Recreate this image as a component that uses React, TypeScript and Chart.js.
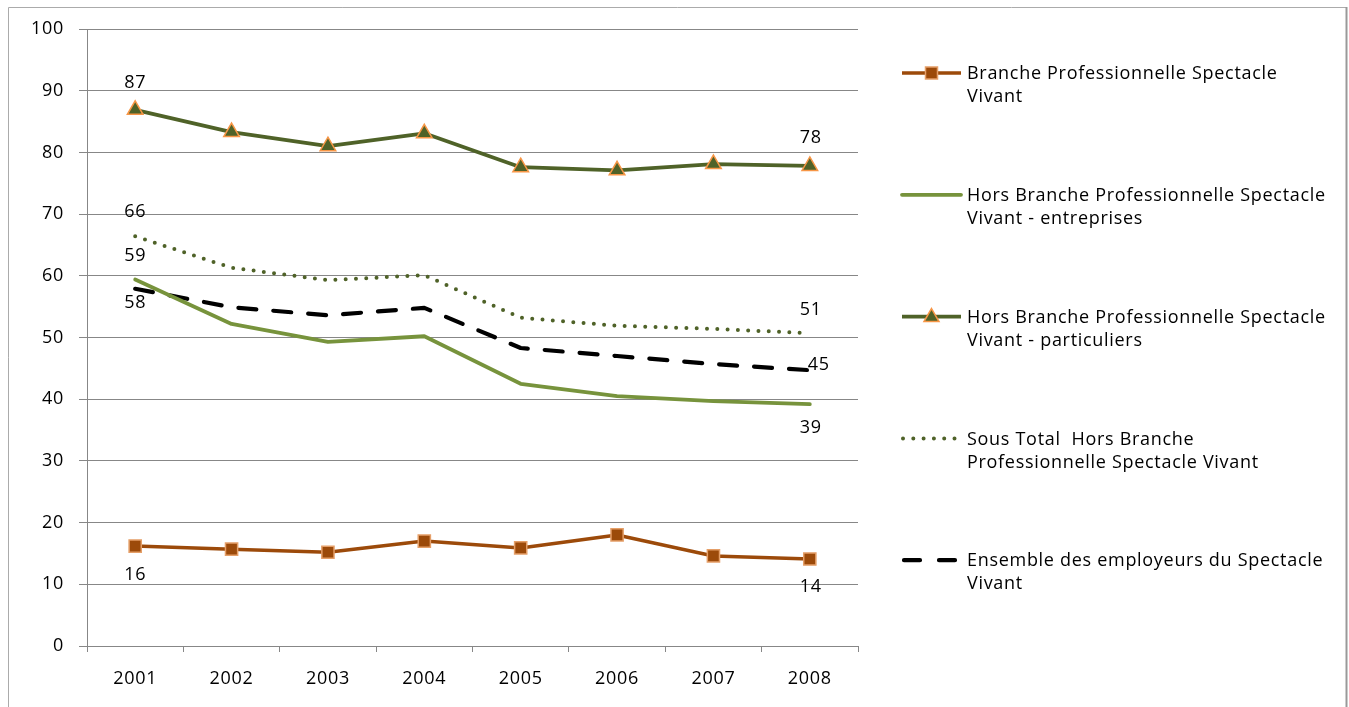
import React, { useEffect, useRef } from "react";
import { Chart, registerables } from "chart.js";

Chart.register(...registerables);

// ---------- DATA ----------
const years = ["2001", "2002", "2003", "2004", "2005", "2006", "2007", "2008"];
const brancheValues = [16.2, 15.7, 15.2, 17.0, 15.9, 18.0, 14.6, 14.1];
const entreprisesValues = [59.4, 52.2, 49.3, 50.2, 42.5, 40.5, 39.7, 39.2];
const particuliersValues = [86.9, 83.3, 81.0, 83.1, 77.6, 77.1, 78.1, 77.8];
const sousTotalValues = [66.4, 61.3, 59.3, 60.1, 53.2, 51.9, 51.4, 50.7];
const ensembleValues = [57.9, 54.9, 53.6, 54.8, 48.3, 47.0, 45.7, 44.7];
const yMin = 0;
const yMax = 100;
const yStep = 10;

const legendLabels = [
  ["Branche Professionnelle Spectacle", "Vivant"],
  ["Hors Branche Professionnelle Spectacle", "Vivant - entreprises"],
  ["Hors Branche Professionnelle Spectacle", "Vivant - particuliers"],
  ["Sous Total  Hors Branche", "Professionnelle Spectacle Vivant"],
  ["Ensemble des employeurs du Spectacle", "Vivant"],
];

// which points carry a value label: [datasetIndex, pointIndex]
const labelledPoints = [
  [0, 0], [0, 7],
  [1, 0], [1, 7],
  [2, 0], [2, 7],
  [3, 0], [3, 7],
  [4, 0], [4, 7],
];

// ---------- STYLE ----------
const FONT = "'Open Sans', 'DejaVu Sans', sans-serif";
const FONT_SIZE = 18;
const LETTER_SPACING = "0.7px";
const labelOffsets = [
  [0, 29], [1, 28],
  [0, -24], [1, 24],
  [0, -27], [1, -28],
  [0, -24], [1, -23],
  [0, 14], [9, -5],
];

const brown = "#9C4A0A";
const lightGreen = "#77933C";
const darkGreen = "#4F6228";
const orange = "#F79646";
const gridColor = "#878787";

const legendLayout = { lineX0: 902, lineX1: 961, textX: 967, firstY: 73, spacing: 121.8, lineGap: 23 };

const datasetsStyle = [
  { borderColor: brown, borderWidth: 3.5, pointStyle: "rect", pointRadius: 8.6, pointBackgroundColor: brown, pointBorderColor: "#E59F68", pointBorderWidth: 1.5, borderDash: [] as number[], borderCapStyle: "butt" },
  { borderColor: lightGreen, borderWidth: 3.8, pointStyle: false, pointRadius: 0, pointBackgroundColor: lightGreen, pointBorderColor: lightGreen, pointBorderWidth: 0, borderDash: [] as number[], borderCapStyle: "round" },
  { borderColor: darkGreen, borderWidth: 3.8, pointStyle: "triangle", pointRadius: 9, pointBackgroundColor: darkGreen, pointBorderColor: orange, pointBorderWidth: 1.5, borderDash: [] as number[], borderCapStyle: "butt" },
  { borderColor: darkGreen, borderWidth: 4, pointStyle: false, pointRadius: 0, pointBackgroundColor: darkGreen, pointBorderColor: darkGreen, pointBorderWidth: 0, borderDash: [0, 10.3], borderCapStyle: "round" },
  { borderColor: "#000000", borderWidth: 4.2, pointStyle: false, pointRadius: 0, pointBackgroundColor: "#000", pointBorderColor: "#000", pointBorderWidth: 0, borderDash: [18, 17], borderCapStyle: "round" },
];

const seriesValues = [brancheValues, entreprisesValues, particuliersValues, sousTotalValues, ensembleValues];

const frame = {
  id: "frame",
  beforeDraw(chart: any) {
    const ctx = chart.ctx;
    (ctx as any).letterSpacing = LETTER_SPACING;
    ctx.save();
    ctx.fillStyle = "#ffffff";
    ctx.fillRect(0, 0, chart.width, chart.height);
    ctx.strokeStyle = "#ABABAB";
    ctx.lineWidth = 1;
    ctx.beginPath();
    ctx.moveTo(8.5, 720);
    ctx.lineTo(8.5, 7.5);
    ctx.lineTo(1346, 7.5);
    ctx.stroke();
    ctx.strokeStyle = "#999999";
    ctx.lineWidth = 2;
    ctx.beginPath();
    ctx.moveTo(1346.5, 7);
    ctx.lineTo(1346.5, 720);
    ctx.stroke();
    ctx.restore();
  },
};

const valueLabels = {
  id: "valueLabels",
  afterDatasetsDraw(chart: any) {
    const ctx = chart.ctx;
    ctx.save();
    ctx.font = `${FONT_SIZE}px ${FONT}`;
    ctx.fillStyle = "#000";
    ctx.textAlign = "center";
    ctx.textBaseline = "middle";
    labelledPoints.forEach(([d, i], k) => {
      const pt = chart.getDatasetMeta(d).data[i];
      const v = chart.data.datasets[d].data[i];
      const [dx, dy] = labelOffsets[k];
      ctx.fillText(String(Math.round(v)), pt.x + dx, pt.y + dy);
    });
    ctx.restore();
  },
};

const legendPlugin = {
  id: "customLegend",
  afterDraw(chart: any) {
    const ctx = chart.ctx;
    const L = legendLayout;
    ctx.save();
    chart.data.datasets.forEach((ds: any, k: number) => {
      const y = L.firstY + k * L.spacing;
      const st = datasetsStyle[k];
      ctx.strokeStyle = st.borderColor;
      ctx.lineWidth = st.borderWidth;
      ctx.lineCap = st.borderCapStyle as CanvasLineCap;
      ctx.setLineDash(st.borderDash);
      ctx.beginPath();
      if (k === 3) {
        ctx.moveTo(L.lineX0 + 1, y);
        ctx.lineTo(L.lineX1 - 2, y);
      } else if (k === 4) {
        ctx.setLineDash([16, 19]);
        ctx.moveTo(L.lineX0 + 2, y);
        ctx.lineTo(L.lineX1 - 4, y);
      } else {
        ctx.moveTo(L.lineX0, y);
        ctx.lineTo(L.lineX1, y);
      }
      ctx.stroke();
      ctx.setLineDash([]);
      if (st.pointStyle) {
        const cx = (L.lineX0 + L.lineX1) / 2;
        ctx.fillStyle = st.pointBackgroundColor;
        ctx.strokeStyle = st.pointBorderColor;
        ctx.lineWidth = st.pointBorderWidth;
        ctx.beginPath();
        if (st.pointStyle === "rect") {
          ctx.rect(cx - 6, y - 6, 12, 12);
        } else {
          ctx.moveTo(cx, y - 8);
          ctx.lineTo(cx + 7.5, y + 5);
          ctx.lineTo(cx - 7.5, y + 5);
          ctx.closePath();
        }
        ctx.fill();
        ctx.stroke();
      }
      ctx.font = `${FONT_SIZE}px ${FONT}`;
      ctx.fillStyle = "#000";
      ctx.textAlign = "left";
      ctx.textBaseline = "middle";
      legendLabels[k].forEach((line, j) => {
        ctx.fillText(line, L.textX, y + 1 + j * L.lineGap);
      });
    });
    ctx.restore();
  },
};

export default function App() {
  const ref = useRef<HTMLCanvasElement | null>(null);

  useEffect(() => {
    if (!ref.current) return;
    const chart = new Chart(ref.current, {
      type: "line",
      data: {
        labels: years,
        datasets: seriesValues.map((vals, k) => {
          const st = datasetsStyle[k];
          return {
            label: legendLabels[k].join(" "),
            data: vals,
            borderColor: st.borderColor,
            backgroundColor: st.borderColor,
            borderWidth: st.borderWidth,
            borderDash: st.borderDash,
            borderCapStyle: st.borderCapStyle as any,
            borderJoinStyle: "round" as any,
            pointStyle: st.pointStyle as any,
            pointRadius: st.pointRadius,
            pointHoverRadius: st.pointRadius,
            pointBackgroundColor: st.pointBackgroundColor,
            pointBorderColor: st.pointBorderColor,
            pointBorderWidth: st.pointBorderWidth,
            tension: 0,
            fill: false,
            clip: false as any,
          };
        }),
      },
      options: {
        responsive: false,
        animation: false,
        events: [],
        layout: { padding: { left: 0, top: 29, right: 491, bottom: 0 } },
        plugins: { legend: { display: false }, tooltip: { enabled: false }, title: { display: false } },
        scales: {
          x: {
            type: "category",
            offset: true,
            grid: { display: true, drawOnChartArea: false, drawTicks: true, tickLength: 6, color: gridColor, offset: true },
            border: { display: true, color: gridColor, width: 1 },
            ticks: { color: "#000", font: { family: FONT, size: FONT_SIZE }, padding: 16, maxRotation: 0, autoSkip: false },
            afterFit: (s: any) => { s.height = 61; },
          },
          y: {
            min: yMin,
            max: yMax,
            grid: { color: gridColor, tickLength: 8, drawTicks: true },
            border: { display: true, color: gridColor, width: 1 },
            ticks: { stepSize: yStep, color: "#000", font: { family: FONT, size: FONT_SIZE }, padding: 15 },
            afterFit: (s: any) => { s.width = 87; },
          },
        },
      },
      plugins: [frame, valueLabels, legendPlugin],
    });
    return () => chart.destroy();
  }, []);

  return (
    <div style={{ position: "absolute", left: 0, top: 0, width: 1349, height: 707, overflow: "hidden", background: "#fff" }}>
      <canvas ref={ref} width={1349} height={707} style={{ display: "block" }} />
    </div>
  );
}
